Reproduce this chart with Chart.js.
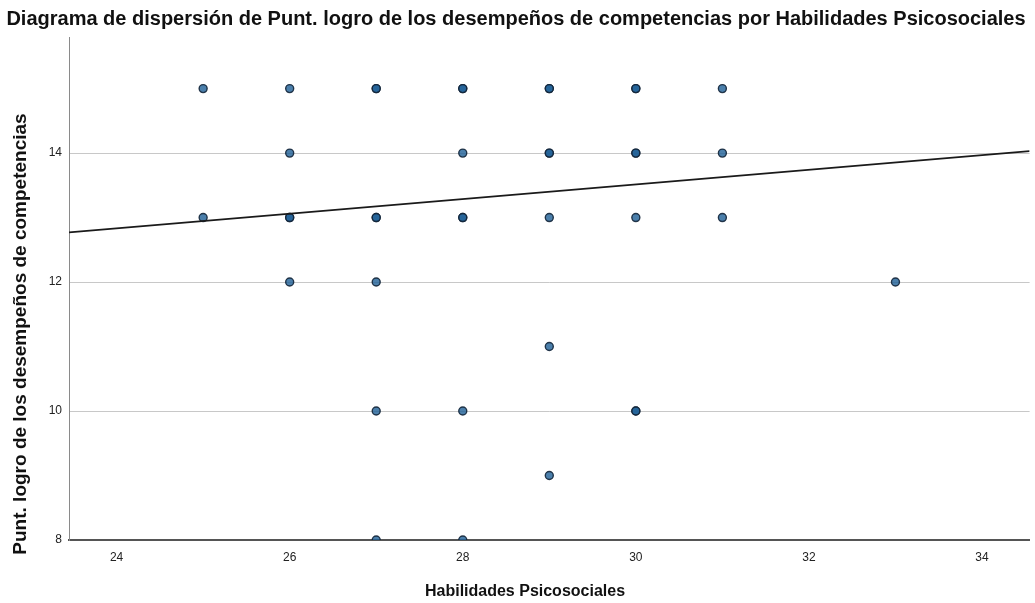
<!DOCTYPE html>
<html>
<head>
<meta charset="utf-8">
<script src="https://cdn.jsdelivr.net/npm/chart.js@4"></script>
<style>
  html, body { margin: 0; padding: 0; background: #fff; }
  #wrap { width: 1035px; height: 603px; }
</style>
</head>
<body>
<div id="wrap"><canvas id="chart"></canvas></div>
<script>
// Habilidades Psicosociales (x) vs Punt. logro (y); repeated pairs = overlapping cases
const habilidades = [25, 25, 26, 26, 26, 26, 26, 27, 27, 27, 27, 27, 27, 27, 28, 28, 28, 28, 28, 28, 28,
                     29, 29, 29, 29, 29, 29, 29, 30, 30, 30, 30, 30, 30, 30, 31, 31, 31, 33];
const logro       = [15, 13, 15, 14, 13, 13, 12, 15, 15, 13, 13, 12, 10,  8, 15, 15, 14, 13, 13, 10,  8,
                     15, 15, 14, 14, 13, 11,  9, 15, 15, 14, 14, 13, 10, 10, 15, 14, 13, 12];

// fit line ends, read at the plot edges
const fitX = [23.45, 34.55];
const fitY = [12.77, 14.03];

const xTicks = [24, 26, 28, 30, 32, 34];
const yTicks = [8, 10, 12, 14];

const titleText = "Diagrama de dispersión de Punt. logro de los desempeños de competencias por Habilidades Psicosociales";
const xTitle = "Habilidades Psicosociales";
const yTitle = "Punt. logro de los desempeños de competencias";

const FONT = "'Liberation Sans', Arial, sans-serif";

const axisTitles = {
    id: "axisTitles",
    afterDraw(chart) {
        const ctx = chart.ctx;
        ctx.save();
        ctx.fillStyle = "#111";
        ctx.textAlign = "center";
        ctx.textBaseline = "middle";
        ctx.font = "bold 16px " + FONT;
        ctx.fillText(xTitle, 525, 592);
        ctx.font = "bold 19px " + FONT;
        ctx.translate(21, 334);
        ctx.rotate(-Math.PI / 2);
        ctx.fillText(yTitle, 0, 0);
        ctx.restore();
    }
};

const points = habilidades.map((x, i) => ({ x: x, y: logro[i] }));
const fitLine = fitX.map((x, i) => ({ x: x, y: fitY[i] }));

new Chart(document.getElementById("chart").getContext("2d"), {
    type: "scatter",
    data: {
        datasets: [
            {
                type: "line",
                data: fitLine,
                borderColor: "#1a1a1a",
                borderWidth: 1.6,
                pointRadius: 0,
                fill: false
            },
            {
                data: points,
                backgroundColor: "rgba(30, 95, 150, 0.8)",
                borderColor: "rgba(20, 38, 58, 0.9)",
                borderWidth: 1.4,
                pointRadius: 4,
                clip: 0
            }
        ]
    },
    options: {
        responsive: true,
        maintainAspectRatio: false,
        animation: false,
        layout: { padding: { right: 3 } },
        plugins: {
            legend: { display: false },
            tooltip: { enabled: false },
            title: {
                display: true,
                text: titleText,
                color: "#111",
                font: { family: FONT, size: 20, weight: "bold", lineHeight: 1.2 },
                padding: { top: 7, bottom: 6 }
            }
        },
        scales: {
            x: {
                type: "linear",
                min: fitX[0],
                max: fitX[1],
                afterFit(scale) { scale.height = 63; },
                afterBuildTicks(scale) { scale.ticks = xTicks.map(v => ({ value: v })); },
                grid: { display: false, drawTicks: false },
                border: { display: true, color: "#555", width: 2 },
                ticks: {
                    color: "#222",
                    padding: 10,
                    font: { family: FONT, size: 12 }
                }
            },
            y: {
                min: 8,
                max: 15.8,
                afterFit(scale) { scale.width = 69; },
                afterBuildTicks(scale) { scale.ticks = yTicks.map(v => ({ value: v })); },
                grid: { color: "#c8c8c8", lineWidth: 1, drawTicks: false },
                border: { display: true, color: "#8a8a8a", width: 1 },
                ticks: {
                    color: "#222",
                    padding: 7,
                    font: { family: FONT, size: 12 }
                }
            }
        }
    },
    plugins: [axisTitles]
});
</script>
</body>
</html>
